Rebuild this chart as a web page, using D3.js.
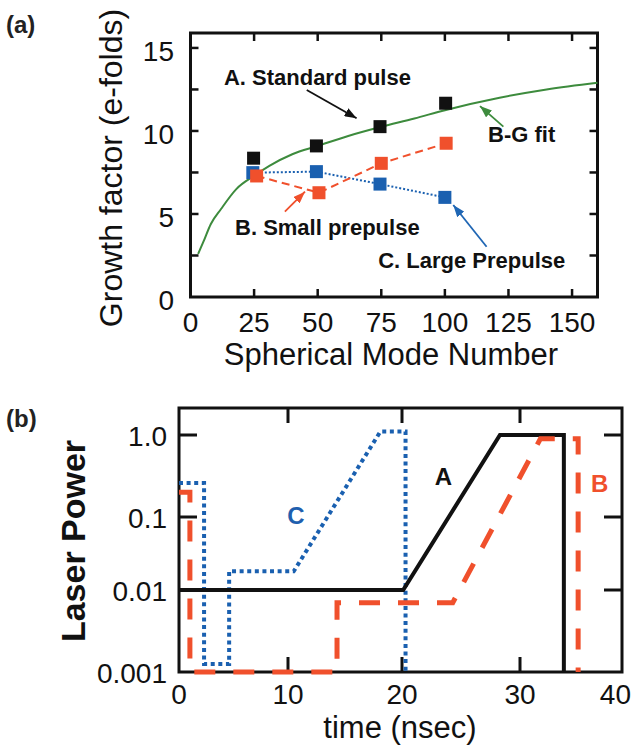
<!DOCTYPE html>
<html>
<head>
<meta charset="utf-8">
<script src="https://cdn.jsdelivr.net/npm/d3@7"></script>
<style>
  body { margin: 0; background: #fff; }
  svg { display: block; }
</style>
</head>
<body>
<svg id="fig" width="632" height="751"></svg>
<script>
// ---------- Panel (a): growth factor vs spherical mode number ----------
const modeTicks = [0, 25, 50, 75, 100, 125, 150];
const growthLabels = [0, 5, 10, 15];
const growthTicks = [2.5, 5, 7.5, 10, 12.5, 15];
const standardPulse = [[24.8, 8.36], [49.5, 9.1], [74.5, 10.26], [100.3, 11.67]];
const smallPrepulse = [[26, 7.29], [50.5, 6.28], [75, 8.05], [100.5, 9.26]];
const largePrepulse = [[24.5, 7.49], [49.5, 7.55], [74.5, 6.8], [100, 6.0]];
const bgFit = [[3, 2.6], [5, 3.3], [8, 4.4], [12, 5.3], [18, 6.5], [25, 7.3], [31, 7.9],
               [40, 8.6], [50, 9.1], [62, 9.7], [75, 10.25], [88, 10.75], [100, 11.25],
               [121.5, 12.0], [140, 12.5], [160, 12.9]];
// annotation texts and arrows (data units)
const notesA = [
  { text: "A. Standard pulse", x: 49.9, y: 12.75, color: "#111", anchor: "middle" },
  { text: "B-G fit", x: 117, y: 9.36, color: "#111", anchor: "start" },
  { text: "B. Small prepulse", x: 17.5, y: 3.73, color: "#111", anchor: "start" },
  { text: "C. Large Prepulse", x: 73.8, y: 1.75, color: "#111", anchor: "start" }
];
const arrowsA = [
  { from: [45.7, 12.47], to: [65.3, 10.77], color: "#111" },
  { from: [123, 10.26], to: [113.8, 11.5], color: "#3d8b3d" },
  { from: [37.1, 5.14], to: [45, 6.34], color: "#f0502c" },
  { from: [116.4, 3.03], to: [103.3, 5.54], color: "#1f66b4" }
];

// ---------- Panel (b): laser pulse shapes ----------
const timeTicks = [0, 10, 20, 30, 40];
const powerTicks = [0.001, 0.01, 0.1, 1];
const powerLabels = ["0.001", "0.01", "0.1", "1.0"];
const pulseA = [[0, 0.01], [20.1, 0.01], [28.3, 1], [34.3, 1], [34.3, 0.001]];
const pulseB = [[0, 0.2], [1, 0.2], [1, 0.001], [14.3, 0.001], [14.3, 0.007], [24.3, 0.007],
                [32, 0.9], [35.7, 0.9], [35.7, 0.001]];
const pulseC = [[0, 0.26], [2.3, 0.26], [2.3, 0.00125], [4.6, 0.00125], [4.6, 0.018],
                [10.5, 0.018], [18.1, 1.1], [20.3, 1.1], [20.3, 0.001]];
const notesB = [
  { text: "A", t: 23.5, p: 0.245, color: "#111" },
  { text: "B", t: 37.8, p: 0.204, color: "#f0502c" },
  { text: "C", t: 10.7, p: 0.08, color: "#1f5fae" }
];

const FONT = "'Liberation Sans', Arial, Helvetica, sans-serif";
const RED = "#f0502c", BLUE = "#1a60b0", GREEN = "#3d8b3d", INK = "#111";

const svg = d3.select("#fig");

// arrowhead markers, one per colour
const markerColors = [INK, GREEN, RED, "#1f66b4"];
const defs = svg.append("defs");
markerColors.forEach((c, i) => {
  defs.append("marker")
    .attr("id", "ah" + i)
    .attr("markerUnits", "userSpaceOnUse")
    .attr("markerWidth", 12).attr("markerHeight", 9)
    .attr("refX", 12).attr("refY", 4.5)
    .attr("orient", "auto")
    .append("path").attr("d", "M0,0 L12,4.5 L0,9 Z").attr("fill", c);
});
const markerFor = c => "url(#ah" + markerColors.indexOf(c) + ")";

// ================= Panel (a) =================
const xa = d3.scaleLinear().domain([0, 160]).range([190.5, 597.5]);
const ya = d3.scaleLinear().domain([0, 15.9]).range([297, 33]);
const ga = svg.append("g");

// inward ticks on all four sides
ga.selectAll(".xtb").data(modeTicks.filter(d => d > 0)).join("line")
  .attr("x1", d => xa(d)).attr("x2", d => xa(d))
  .attr("y1", ya(0)).attr("y2", ya(0) - 8)
  .attr("stroke", INK).attr("stroke-width", 2.5);
ga.selectAll(".xtt").data(modeTicks.filter(d => d > 0)).join("line")
  .attr("x1", d => xa(d)).attr("x2", d => xa(d))
  .attr("y1", ya(15.9)).attr("y2", ya(15.9) + 8)
  .attr("stroke", INK).attr("stroke-width", 2.5);
ga.selectAll(".ytl").data(growthTicks).join("line")
  .attr("x1", xa(0)).attr("x2", xa(0) + 8)
  .attr("y1", d => ya(d)).attr("y2", d => ya(d))
  .attr("stroke", INK).attr("stroke-width", 2.5);
ga.selectAll(".ytr").data(growthTicks).join("line")
  .attr("x1", xa(160)).attr("x2", xa(160) - 8)
  .attr("y1", d => ya(d)).attr("y2", d => ya(d))
  .attr("stroke", INK).attr("stroke-width", 2.5);

ga.append("rect")
  .attr("x", xa(0)).attr("y", ya(15.9))
  .attr("width", xa(160) - xa(0)).attr("height", ya(0) - ya(15.9))
  .attr("fill", "none").attr("stroke", INK).attr("stroke-width", 3);

// tick labels
ga.selectAll(".xl").data(modeTicks).join("text")
  .attr("x", d => xa(d)).attr("y", 332)
  .attr("text-anchor", "middle")
  .attr("font-family", FONT).attr("font-size", 28).attr("fill", INK)
  .text(d => d);
ga.selectAll(".yl").data(growthLabels).join("text")
  .attr("x", 174).attr("y", d => ya(d)).attr("dy", "0.45em")
  .attr("text-anchor", "end")
  .attr("font-family", FONT).attr("font-size", 28).attr("fill", INK)
  .text(d => d);

// axis titles
ga.append("text")
  .attr("x", 391).attr("y", 365).attr("text-anchor", "middle")
  .attr("font-family", FONT).attr("font-size", 31).attr("fill", INK)
  .text("Spherical Mode Number");
ga.append("text")
  .attr("transform", "translate(122,168) rotate(-90)")
  .attr("text-anchor", "middle")
  .attr("font-family", FONT).attr("font-size", 32).attr("fill", INK)
  .text("Growth factor (e-folds)");

// B-G fit curve
const lineA = d3.line().x(d => xa(d[0])).y(d => ya(d[1]));
ga.append("path").datum(bgFit)
  .attr("d", lineA.curve(d3.curveMonotoneX))
  .attr("fill", "none").attr("stroke", GREEN).attr("stroke-width", 2);
lineA.curve(d3.curveLinear);

// connecting lines for the prepulse series
ga.append("path").datum(largePrepulse)
  .attr("d", lineA)
  .attr("fill", "none").attr("stroke", BLUE).attr("stroke-width", 2)
  .attr("stroke-dasharray", "2,2");
ga.append("path").datum(smallPrepulse)
  .attr("d", lineA)
  .attr("fill", "none").attr("stroke", RED).attr("stroke-width", 2)
  .attr("stroke-dasharray", "8,5");

// square markers
const SQ = 13;
[[standardPulse, INK], [largePrepulse, BLUE], [smallPrepulse, RED]].forEach(([data, c]) => {
  ga.append("g").selectAll("rect").data(data).join("rect")
    .attr("x", d => xa(d[0]) - SQ / 2).attr("y", d => ya(d[1]) - SQ / 2)
    .attr("width", SQ).attr("height", SQ)
    .attr("fill", c);
});

// annotations
ga.selectAll(".note").data(notesA).join("text")
  .attr("x", d => xa(d.x)).attr("y", d => ya(d.y))
  .attr("text-anchor", d => d.anchor)
  .attr("font-family", FONT).attr("font-size", 22).attr("font-weight", "bold")
  .attr("fill", d => d.color)
  .text(d => d.text);
ga.selectAll(".arr").data(arrowsA).join("line")
  .attr("x1", d => xa(d.from[0])).attr("y1", d => ya(d.from[1]))
  .attr("x2", d => xa(d.to[0])).attr("y2", d => ya(d.to[1]))
  .attr("stroke", d => d.color).attr("stroke-width", 1.8)
  .attr("marker-end", d => markerFor(d.color));

// panel label
svg.append("text").attr("x", 6).attr("y", 33)
  .attr("font-family", FONT).attr("font-size", 24).attr("font-weight", "bold").attr("fill", "#222")
  .text("(a)");

// ================= Panel (b) =================
const xb = d3.scaleLinear().domain(timeTicks).range([179, 288, 402, 520, 622]);
const yb = d3.scaleLog().domain([0.001, 0.01, 0.1, 1, 2.14]).range([672, 590, 517, 435, 408]);
const gb = svg.append("g");

const innerT = timeTicks.slice(1, -1);
const innerP = powerTicks.slice(1);
gb.selectAll(".tb").data(innerT).join("line")
  .attr("x1", d => xb(d)).attr("x2", d => xb(d))
  .attr("y1", yb(0.001)).attr("y2", yb(0.001) - 15)
  .attr("stroke", INK).attr("stroke-width", 3);
gb.selectAll(".tt").data(innerT).join("line")
  .attr("x1", d => xb(d)).attr("x2", d => xb(d))
  .attr("y1", yb(2.14)).attr("y2", yb(2.14) + 15)
  .attr("stroke", INK).attr("stroke-width", 3);
gb.selectAll(".tl").data(innerP).join("line")
  .attr("x1", xb(0)).attr("x2", xb(0) + 18)
  .attr("y1", d => yb(d)).attr("y2", d => yb(d))
  .attr("stroke", INK).attr("stroke-width", 3);
gb.selectAll(".tr").data(innerP).join("line")
  .attr("x1", xb(40)).attr("x2", xb(40) - 18)
  .attr("y1", d => yb(d)).attr("y2", d => yb(d))
  .attr("stroke", INK).attr("stroke-width", 3);

gb.append("rect")
  .attr("x", xb(0)).attr("y", yb(2.14))
  .attr("width", xb(40) - xb(0)).attr("height", yb(0.001) - yb(2.14))
  .attr("fill", "none").attr("stroke", INK).attr("stroke-width", 3);

// the last label is kept inside the page edge
const lastT = timeTicks[timeTicks.length - 1];
gb.selectAll(".xl").data(timeTicks).join("text")
  .attr("x", d => d === lastT ? 631 : xb(d)).attr("y", 704)
  .attr("text-anchor", d => d === lastT ? "end" : "middle")
  .attr("font-family", FONT).attr("font-size", 28).attr("fill", INK)
  .text(d => d);
gb.selectAll(".yl").data(powerTicks).join("text")
  .attr("x", 167).attr("y", d => yb(d)).attr("dy", "0.4em")
  .attr("text-anchor", "end")
  .attr("font-family", FONT).attr("font-size", 28).attr("fill", INK)
  .text((d, i) => powerLabels[i]);

gb.append("text")
  .attr("x", 400).attr("y", 738).attr("text-anchor", "middle")
  .attr("font-family", FONT).attr("font-size", 31).attr("fill", INK)
  .text("time (nsec)");
gb.append("text")
  .attr("transform", "translate(85,541) rotate(-90)")
  .attr("text-anchor", "middle")
  .attr("font-family", FONT).attr("font-size", 34).attr("font-weight", "bold").attr("fill", INK)
  .text("Laser Power");

const lineB = d3.line().x(d => xb(d[0])).y(d => yb(d[1]));
gb.append("path").datum(pulseC)
  .attr("d", lineB)
  .attr("fill", "none").attr("stroke", BLUE).attr("stroke-width", 4)
  .attr("stroke-dasharray", "4,3.6");
gb.append("path").datum(pulseA)
  .attr("d", lineB)
  .attr("fill", "none").attr("stroke", INK).attr("stroke-width", 4)
  .attr("stroke-linejoin", "miter");
gb.append("path").datum(pulseB)
  .attr("d", lineB)
  .attr("fill", "none").attr("stroke", RED).attr("stroke-width", 5)
  .attr("stroke-dasharray", "21,18");

gb.selectAll(".lab").data(notesB).join("text")
  .attr("x", d => xb(d.t)).attr("y", d => yb(d.p))
  .attr("text-anchor", "middle")
  .attr("font-family", FONT).attr("font-size", 24).attr("font-weight", "bold")
  .attr("fill", d => d.color)
  .text(d => d.text);

svg.append("text").attr("x", 6).attr("y", 427)
  .attr("font-family", FONT).attr("font-size", 24).attr("font-weight", "bold").attr("fill", "#222")
  .text("(b)");
</script>
</body>
</html>
